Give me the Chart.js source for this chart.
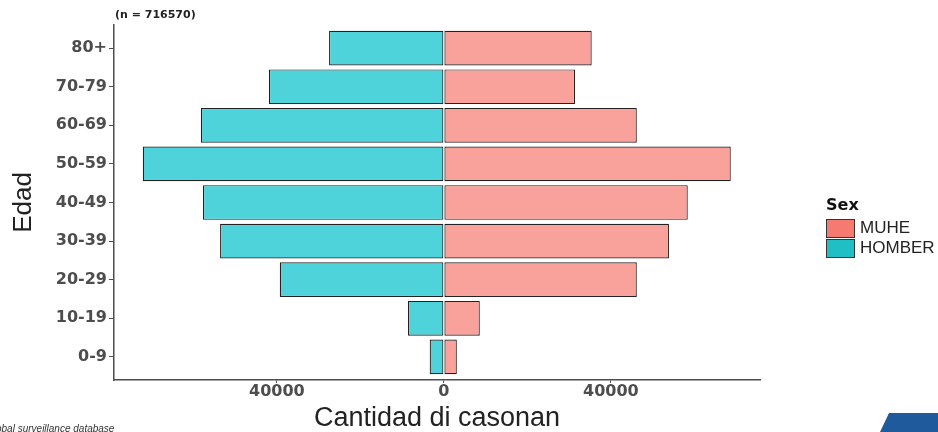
<!DOCTYPE html>
<html>
<head>
<meta charset="utf-8">
<script src="https://cdn.jsdelivr.net/npm/chart.js@4"></script>
<style>
  html, body { margin: 0; padding: 0; background: #fff; }
  #wrap { position: relative; width: 938px; height: 432px; overflow: hidden; font-family: "Liberation Sans", Arial, sans-serif; }
  #pyramidChart { position: absolute; left: 0; top: 0; }
  #nLabel { position: absolute; left: 115px; top: 8px; font: bold 11px "DejaVu Sans", sans-serif; color: #222; }
  #legend { position: absolute; left: 826px; top: 196px; }
  #legend .title { font: bold 16px "DejaVu Sans", sans-serif; color: #111; height: 22px; line-height: 18px; }
  #legend .item { display: flex; align-items: center; height: 20px; }
  #legend .swatch { width: 29px; height: 19px; border: 1px solid #333; box-sizing: border-box; margin-right: 5px; }
  #legend .label { font-size: 17px; color: #222; }
  #source { position: absolute; left: -4px; top: 423px; font: italic 10px "Liberation Sans", sans-serif; color: #333; }
  #logo { position: absolute; left: 880px; top: 413px; width: 58px; height: 19px; background: #1f5a9c;
          clip-path: polygon(9px 0, 58px 0, 58px 19px, 0 19px); }
</style>
</head>
<body>
<div id="wrap">
  <canvas id="pyramidChart" width="938" height="432"></canvas>
  <div id="nLabel">(n = 716570)</div>
  <div id="legend"></div>
  <div id="source">obal surveillance database</div>
  <div id="logo"></div>
</div>
<script>
// age groups, bottom to top
const ageGroups = ['0-9', '10-19', '20-29', '30-39', '40-49', '50-59', '60-69', '70-79', '80+'];
const muheCases = [3100, 8600, 46200, 53900, 58400, 68700, 46200, 31400, 35400];
const homberCases = [3400, 8600, 39300, 53600, 57700, 72100, 58200, 41900, 27500];
const seriesNames = ['MUHE', 'HOMBER'];
const barColors = ['#F9A19B', '#4FD3DA'];
const legendColors = ['#F47A72', '#1FBFC5'];
const xTicks = [-40000, 0, 40000];

const axisColor = '#4d4d4d';
const tickFont = { family: 'DejaVu Sans', weight: 'bold', size: 16, lineHeight: 1 };

// Chart: population pyramid
const ctx = document.getElementById('pyramidChart').getContext('2d');
new Chart(ctx, {
  type: 'bar',
  data: {
    datasets: [
      {
        label: seriesNames[0],
        data: muheCases.map((v, i) => ({ x: v, y: i + 1 })),
        backgroundColor: barColors[0]
      },
      {
        label: seriesNames[1],
        data: homberCases.map((v, i) => ({ x: -v, y: i + 1 })),
        backgroundColor: barColors[1]
      }
    ]
  },
  options: {
    indexAxis: 'y',
    responsive: false,
    animation: false,
    devicePixelRatio: 1,
    layout: { padding: { left: 0, right: 178, top: 25, bottom: 0 } },
    datasets: {
      bar: {
        borderColor: '#222',
        borderWidth: 1.2,
        borderSkipped: false,
        categoryPercentage: 0.9,
        barPercentage: 1
      }
    },
    plugins: {
      legend: { display: false },
      tooltip: { enabled: false }
    },
    scales: {
      x: {
        type: 'linear',
        stacked: true,
        min: -79000,
        max: 75700,
        afterBuildTicks: s => { s.ticks = xTicks.map(v => ({ value: v })); },
        afterFit: s => { s.height = 52; },
        grid: { drawOnChartArea: false, tickLength: 3, color: axisColor },
        border: { display: true, color: axisColor, width: 1.5 },
        ticks: {
          font: tickFont, color: axisColor, padding: 1, maxRotation: 0,
          callback: v => String(Math.abs(v))
        },
        title: {
          display: true, text: 'Cantidad di casonan', color: '#222',
          font: { family: 'Liberation Sans', size: 27, lineHeight: 1 },
          padding: { top: 1, bottom: 0 }
        }
      },
      y: {
        type: 'linear',
        stacked: true,
        offset: false,
        min: 0.4,
        max: 9.6,
        afterBuildTicks: s => { s.ticks = ageGroups.map((g, i) => ({ value: i + 1 })); },
        afterFit: s => { s.width = 114; },
        grid: { offset: false, drawOnChartArea: false, tickLength: 5, color: axisColor },
        border: { display: true, color: axisColor, width: 1.5 },
        ticks: {
          font: tickFont, color: axisColor, padding: 2,
          callback: v => ageGroups[v - 1]
        },
        title: {
          display: true, text: 'Edad', color: '#222',
          font: { family: 'Liberation Sans', size: 26, lineHeight: 1.2 },
          padding: { top: 8, bottom: 0 }
        }
      }
    }
  }
});

// legend (ggplot style, at right)
const legendEl = document.getElementById('legend');
legendEl.innerHTML = '<div class="title">Sex</div>' + seriesNames.map((name, i) =>
  '<div class="item"><div class="swatch" style="background:' + legendColors[i] + '"></div>' +
  '<span class="label">' + name + '</span></div>').join('');
</script>
</body>
</html>
